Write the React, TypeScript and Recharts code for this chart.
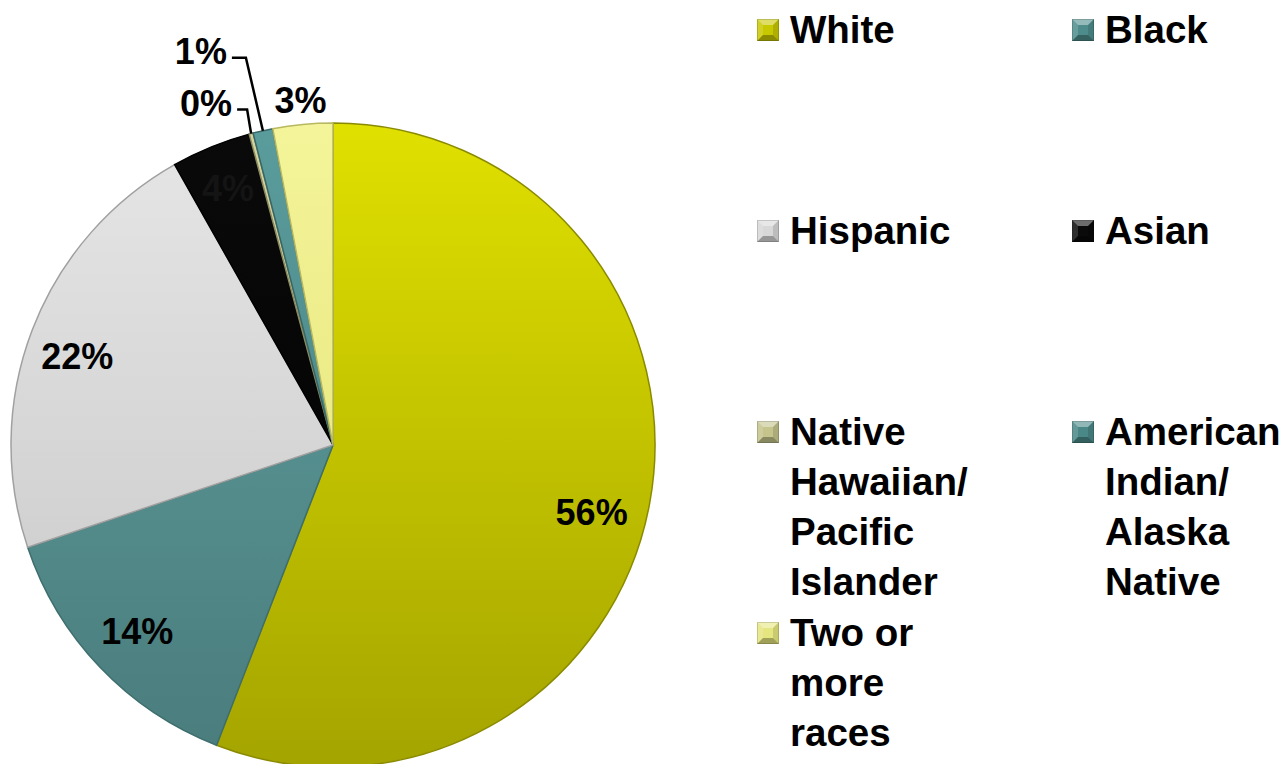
import React from 'react';
import { PieChart, Pie, Cell, Legend } from 'recharts';

const categories = [
  'White',
  'Black',
  'Hispanic',
  'Asian',
  'Native Hawaiian/ Pacific Islander',
  'American Indian/ Alaska Native',
  'Two or more races',
];
const shares = [56, 14, 22, 4, 0.2, 1, 3];
const colorsTop = ['#e0e000', '#60a0a0', '#e6e6e6', '#0a0a0a', '#d4d4a0', '#5a9c9c', '#f4f49a'];
const colorsBottom = ['#a4a400', '#4a7c7c', '#c6c6c6', '#000000', '#b4b47c', '#447a7a', '#e0e070'];
const strokeColors = ['#8a8a00', '#3e6e6e', '#a0a0a0', '#000000', '#8a8a60', '#386666', '#b8b860'];
const legendColors = ['#c8c800', '#4e8c8c', '#d8d8d8', '#0a0a0a', '#c4c48c', '#4a8888', '#e6e680'];
const labelColors = ['#000', '#000', '#000', '#141414', '#000', '#000', '#000'];

const data = categories.map((name, i) => ({ name, value: shares[i] }));

const CX = 333;
const CY = 445;
const R = 322;
const RADIAN = Math.PI / 180;
const FONT = '"Liberation Sans", Arial, sans-serif';

// label placement style: inside / outside / leader (dx,dy of elbow, length of tail)
const labelMode = ['in', 'in', 'in', 'in', 'leader', 'leader', 'out'];
const labelRadius = [0.83, 0.84, 0.84, 0.86, 1, 1, 1];
const labelAngleShift = [-4, 0, 2, 0, 0, 0, 0];
const leaderElbow: Record<number, [number, number, number]> = {
  4: [-4, -24, 10],
  5: [-17, -73, 14],
};

const renderLabel = (props: any) => {
  const { cx, cy, midAngle, outerRadius, percent, index } = props;
  const txt = `${Math.round(percent * 100)}%`;
  const mode = labelMode[index];
  const ang = midAngle + labelAngleShift[index];
  const cos = Math.cos(-ang * RADIAN);
  const sin = Math.sin(-ang * RADIAN);
  const common = {
    fontFamily: FONT,
    fontWeight: 700 as const,
    fontSize: 36,
    fill: labelColors[index],
  };
  if (mode === 'in') {
    const r = outerRadius * labelRadius[index];
    return (
      <text key={`l${index}`} x={cx + r * cos} y={cy + r * sin} textAnchor="middle" dominantBaseline="central" {...common}>
        {txt}
      </text>
    );
  }
  if (mode === 'out') {
    const r = outerRadius + 24;
    return (
      <text key={`l${index}`} x={cx + r * cos} y={cy + r * sin} textAnchor="middle" dominantBaseline="central" {...common}>
        {txt}
      </text>
    );
  }
  const ax = cx + outerRadius * cos;
  const ay = cy + outerRadius * sin;
  const [dx, dy, tail] = leaderElbow[index];
  const ex = ax + dx;
  const ey = ay + dy;
  const tx = ex - tail;
  return (
    <g key={`l${index}`}>
      <polyline points={`${ax},${ay} ${ex},${ey} ${tx},${ey}`} fill="none" stroke="#000" strokeWidth={2.5} />
      <text x={tx - 5} y={ey - 6} textAnchor="end" dominantBaseline="central" {...common}>
        {txt}
      </text>
    </g>
  );
};

const Marker = ({ color }: { color: string }) => (
  <svg width={22} height={22} style={{ display: 'block' }}>
    <rect x={0} y={0} width={22} height={22} fill={color} />
    <polygon points="0,0 22,0 16,6 6,6" fill="#fff" fillOpacity={0.4} />
    <polygon points="0,0 0,22 6,16 6,6" fill="#fff" fillOpacity={0.15} />
    <polygon points="22,0 22,22 16,16 16,6" fill="#000" fillOpacity={0.12} />
    <polygon points="0,22 22,22 16,16 6,16" fill="#000" fillOpacity={0.3} />
    <rect x={0.5} y={0.5} width={21} height={21} fill="none" stroke="#000" strokeOpacity={0.15} />
  </svg>
);

const LegendContent = () => (
  <div
    style={{
      display: 'grid',
      gridTemplateColumns: '315px 215px',
      gridAutoRows: '201px',
      paddingLeft: 7,
      fontFamily: FONT,
      fontWeight: 700,
      fontSize: 38.5,
      lineHeight: '50px',
      color: '#000',
    }}
  >
    {categories.map((c, i) => (
      <div key={c} style={{ display: 'flex', alignItems: 'flex-start' }}>
        <div style={{ marginTop: 14, marginRight: 11 }}>
          <Marker color={legendColors[i]} />
        </div>
        <div style={{ width: 195 }}>{c}</div>
      </div>
    ))}
  </div>
);

export default function App() {
  return (
    <div style={{ position: 'absolute', left: 0, top: 0, width: 1281, height: 764, background: '#fff' }}>
      <PieChart width={1281} height={764} margin={{ top: 0, right: 0, bottom: 0, left: 0 }}>
        <defs>
          {colorsTop.map((c, i) => (
            <linearGradient
              key={i}
              id={`g${i}`}
              gradientUnits="userSpaceOnUse"
              x1={0}
              y1={CY - R}
              x2={0}
              y2={CY + R}
            >
              <stop offset="0%" stopColor={c} />
              <stop offset="100%" stopColor={colorsBottom[i]} />
            </linearGradient>
          ))}
        </defs>
        <Pie
          data={data}
          dataKey="value"
          nameKey="name"
          cx={CX}
          cy={CY}
          outerRadius={R}
          startAngle={90}
          endAngle={-270}
          isAnimationActive={false}
          label={renderLabel}
          labelLine={false}
        >
          {data.map((d, i) => (
            <Cell key={d.name} fill={`url(#g${i})`} stroke={strokeColors[i]} strokeWidth={1.5} />
          ))}
        </Pie>
        <Legend
          content={<LegendContent />}
          wrapperStyle={{ position: 'absolute', left: 750, top: 5, width: 531, height: 759 }}
        />
      </PieChart>
    </div>
  );
}
